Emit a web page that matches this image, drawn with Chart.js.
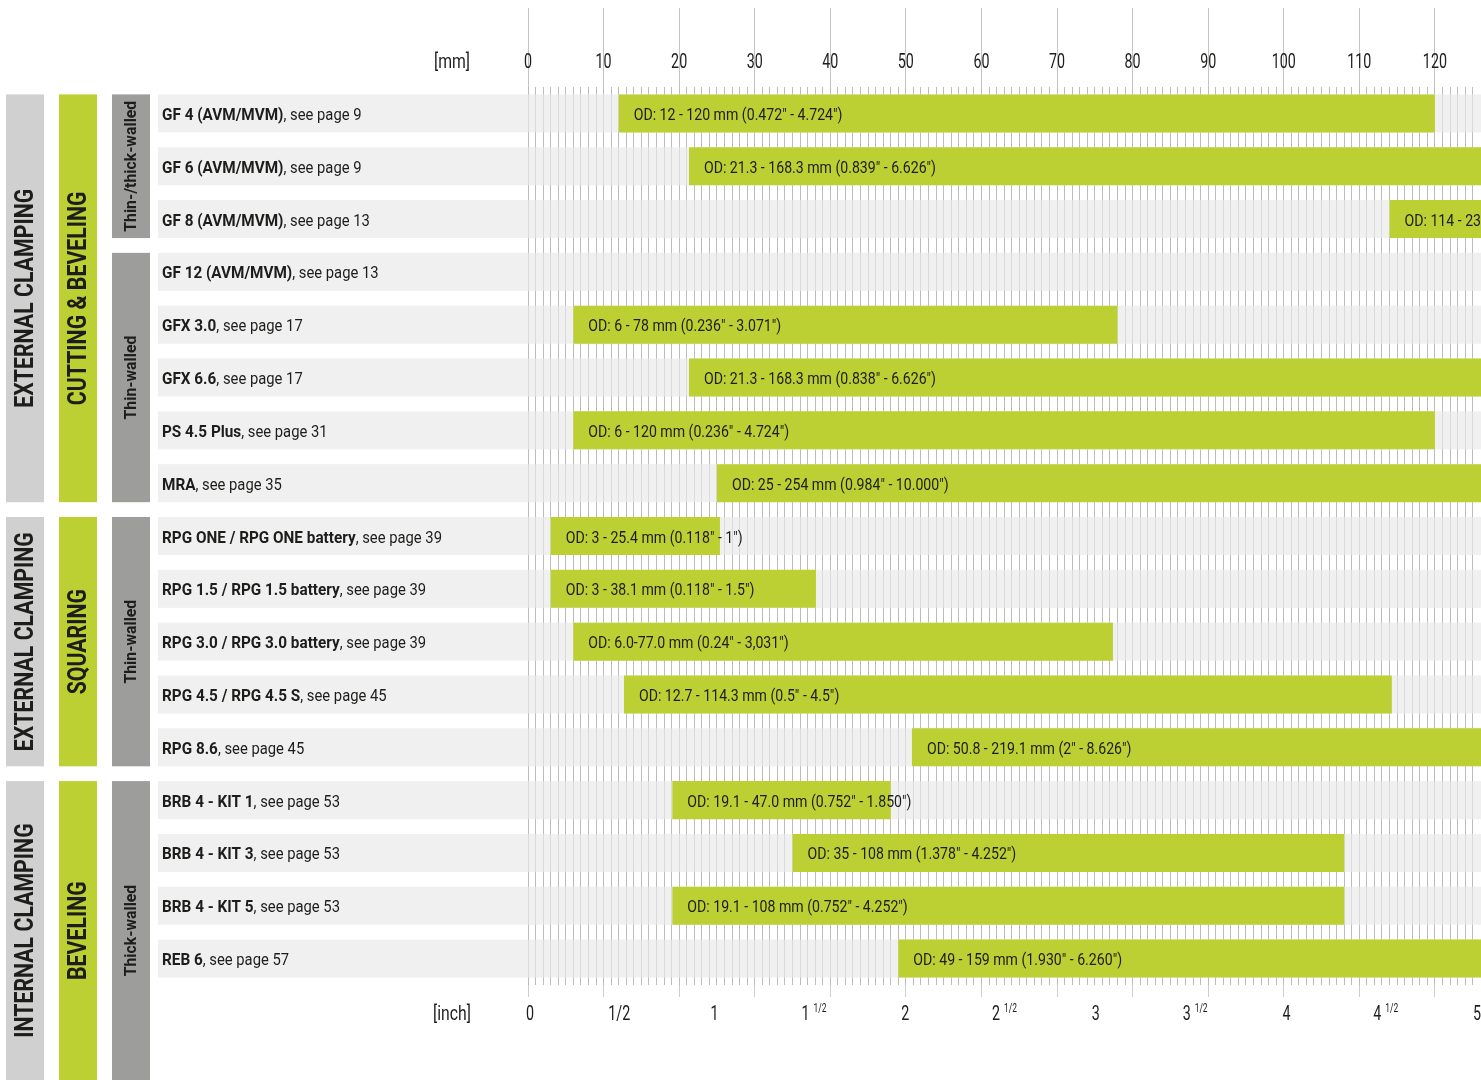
<!DOCTYPE html>
<html>
<head>
<meta charset="utf-8">
<script src="https://cdn.jsdelivr.net/npm/chart.js@4.4.1/dist/chart.umd.min.js"></script>
<style>
  html, body { margin: 0; padding: 0; background: #fff; overflow: hidden; }
  canvas { display: block; }
</style>
</head>
<body>
<canvas id="odChart" width="1481" height="1080"></canvas>
<script>
// product rows (bold part + page reference)
const products = [
    'GF 4 (AVM/MVM)', 'GF 6 (AVM/MVM)', 'GF 8 (AVM/MVM)', 'GF 12 (AVM/MVM)',
    'GFX 3.0', 'GFX 6.6', 'PS 4.5 Plus', 'MRA',
    'RPG ONE / RPG ONE battery', 'RPG 1.5 / RPG 1.5 battery', 'RPG 3.0 / RPG 3.0 battery',
    'RPG 4.5 / RPG 4.5 S', 'RPG 8.6',
    'BRB 4 - KIT 1', 'BRB 4 - KIT 3', 'BRB 4 - KIT 5', 'REB 6'
];
const pages = [9, 9, 13, 13, 17, 17, 31, 35, 39, 39, 39, 45, 45, 53, 53, 53, 57];

// outside diameter range in mm
const odMin = [12, 21.3, 114, null, 6, 21.3, 6, 25, 3, 3, 6, 12.7, 50.8, 19.1, 35, 19.1, 49];
const odMax = [120, 168.3, 230, null, 78, 168.3, 120, 254, 25.4, 38.1, 77.4, 114.3, 219.1, 48, 108, 108, 159];
const odLabels = [
    'OD: 12 - 120 mm (0.472" - 4.724")',
    'OD: 21.3 - 168.3 mm (0.839" - 6.626")',
    'OD: 114 - 230 mm (4.488" - 9.055")',
    '',
    'OD: 6 - 78 mm (0.236" - 3.071")',
    'OD: 21.3 - 168.3 mm (0.838" - 6.626")',
    'OD: 6 - 120 mm (0.236" - 4.724")',
    'OD: 25 - 254 mm (0.984" - 10.000")',
    'OD: 3 - 25.4 mm (0.118" - 1")',
    'OD: 3 - 38.1 mm (0.118" - 1.5")',
    'OD: 6.0-77.0 mm (0.24" - 3,031")',
    'OD: 12.7 - 114.3 mm (0.5" - 4.5")',
    'OD: 50.8 - 219.1 mm (2" - 8.626")',
    'OD: 19.1 - 47.0 mm (0.752" - 1.850")',
    'OD: 35 - 108 mm (1.378" - 4.252")',
    'OD: 19.1 - 108 mm (0.752" - 4.252")',
    'OD: 49 - 159 mm (1.930" - 6.260")'
];

const mmTicks = [0, 10, 20, 30, 40, 50, 60, 70, 80, 90, 100, 110, 120];
const inchTicks = [0, 0.5, 1, 1.5, 2, 2.5, 3, 3.5, 4, 4.5, 5];
const inchLabels = ['0', '1/2', '1', '1 1/2', '2', '2 1/2', '3', '3 1/2', '4', '4 1/2', '5'];

// row groups on the left
const clampLabels = ['EXTERNAL CLAMPING', 'EXTERNAL CLAMPING', 'INTERNAL CLAMPING'];
const processLabels = ['CUTTING & BEVELING', 'SQUARING', 'BEVELING'];
const groupRows = [[0, 7], [8, 12], [13, 16]];
const wallLabels = ['Thin-/thick-walled', 'Thin-walled', 'Thin-walled', 'Thick-walled'];
const wallRows = [[0, 2], [3, 7], [8, 12], [13, 16]];

const GREEN = '#bdd033';
const INK = '#1d1d1b';
const FONT = 'Roboto';

function squeezed(ctx, text, x, y, sx, align) {
    ctx.save();
    ctx.translate(x, y);
    ctx.scale(sx, 1);
    ctx.textAlign = align || 'left';
    ctx.fillText(text, 0, 0);
    ctx.restore();
}

function vertical(ctx, text, cx, cy, sx) {
    ctx.save();
    ctx.translate(cx, cy);
    ctx.rotate(-Math.PI / 2);
    ctx.scale(sx, 1);
    ctx.textAlign = 'center';
    ctx.textBaseline = 'middle';
    ctx.fillText(text, 0, 0);
    ctx.restore();
}

function rowBounds(chart, from, to) {
    const y = chart.scales.y;
    const half = chart.getDatasetMeta(0).data[0].height / 2;
    return [y.getPixelForValue(from) - half, y.getPixelForValue(to) + half];
}

const chartDecor = {
    id: 'chartDecor',
    beforeDatasetsDraw(chart) {
        const c = chart.ctx;
        const y = chart.scales.y;
        const h = chart.getDatasetMeta(0).data[0].height;
        // row stripes, semi transparent so the grid shows through lighter
        c.save();
        c.fillStyle = 'rgba(233,233,233,0.67)';
        products.forEach((p, i) => {
            const py = y.getPixelForValue(i);
            c.fillRect(158, py - h / 2, chart.chartArea.right - 158, h);
        });
        c.restore();
    },
    afterDatasetsDraw(chart) {
        const c = chart.ctx;
        const y = chart.scales.y;
        const x = chart.scales.x;
        const inch = chart.scales.inch;
        c.save();
        c.fillStyle = INK;
        c.textBaseline = 'alphabetic';

        // product names
        products.forEach((p, i) => {
            const py = y.getPixelForValue(i) + 6.5;
            c.font = 'bold 17px ' + FONT;
            squeezed(c, p, 162, py, 0.9);
            const w = c.measureText(p).width * 0.9;
            c.font = '17px ' + FONT;
            squeezed(c, ', see page ' + pages[i], 162 + w, py, 0.87);
        });

        // bar texts
        c.font = '17px ' + FONT;
        chart.getDatasetMeta(0).data.forEach((bar, i) => {
            if (!odLabels[i] || odMin[i] === null) return;
            const left = Math.min(bar.x, bar.base);
            squeezed(c, odLabels[i], left + 15, bar.y + 6.5, 0.83);
        });

        // mm scale numbers
        c.font = '21px ' + FONT;
        mmTicks.forEach(v => squeezed(c, String(v), x.getPixelForValue(v), 68, 0.68, 'center'));
        squeezed(c, '[mm]', 452, 68, 0.75, 'center');

        // inch scale numbers
        inchTicks.forEach((v, i) => {
            const px = inch.getPixelForValue(v);
            const parts = inchLabels[i].split(' ');
            if (parts.length === 1) {
                c.font = '21px ' + FONT;
                squeezed(c, parts[0], v === 0 ? px + 2 : px - 4, 1020, 0.68, 'center');
            } else {
                c.font = '21px ' + FONT;
                const w1 = c.measureText(parts[0]).width * 0.68;
                c.font = '12px ' + FONT;
                const w2 = c.measureText(parts[1]).width * 0.7;
                const start = px - (w1 + 4 + w2) / 2;
                c.font = '21px ' + FONT;
                squeezed(c, parts[0], start, 1020, 0.68);
                c.font = '12px ' + FONT;
                squeezed(c, parts[1], start + w1 + 4, 1012, 0.7);
            }
        });
        c.font = '21px ' + FONT;
        squeezed(c, '[inch]', 452, 1020, 0.75, 'center');

        // group columns
        groupRows.forEach((g, i) => {
            let [top, bottom] = rowBounds(chart, g[0], g[1]);
            if (i === groupRows.length - 1) bottom = chart.height;
            c.fillStyle = '#d0d0d0';
            c.fillRect(6, top, 38, bottom - top);
            c.fillStyle = GREEN;
            c.fillRect(59, top, 38, bottom - top);
            c.fillStyle = INK;
            c.font = 'bold 26px ' + FONT;
            const cy = (top + bottom) / 2;
            vertical(c, clampLabels[i], 26, cy, 0.82);
            vertical(c, processLabels[i], 79, cy, 0.82);
        });
        wallRows.forEach((g, i) => {
            let [top, bottom] = rowBounds(chart, g[0], g[1]);
            if (i === wallRows.length - 1) bottom = chart.height;
            c.fillStyle = '#9d9d9c';
            c.fillRect(112, top, 38, bottom - top);
            c.fillStyle = INK;
            c.font = 'bold 17px ' + FONT;
            vertical(c, wallLabels[i], 132, (top + bottom) / 2, 0.93);
        });
        c.restore();
    }
};

const isMajor = ctx => ctx.tick && Math.abs(ctx.tick.value % 10) < 1e-6;

new Chart(document.getElementById('odChart').getContext('2d'), {
    type: 'bar',
    data: {
        labels: products,
        datasets: [{
            data: odMin.map((v, i) => v === null ? null : [v, odMax[i]]),
            backgroundColor: GREEN,
            borderWidth: 0,
            barPercentage: 0.72,
            categoryPercentage: 1
        }]
    },
    options: {
        indexAxis: 'y',
        responsive: false,
        animation: false,
        layout: { padding: 0 },
        plugins: {
            legend: { display: false },
            tooltip: { enabled: false }
        },
        scales: {
            x: {
                position: 'top',
                min: 0,
                max: 126.1,
                ticks: { stepSize: 1, autoSkip: false, display: false },
                grid: {
                    color: '#bcbcbc',
                    tickLength: 79,
                    tickColor: ctx => isMajor(ctx) ? '#c4c4c4' : 'rgba(0,0,0,0)'
                },
                border: { display: false },
                afterFit: s => { s.height = 87; }
            },
            xb: {
                position: 'bottom',
                min: 0,
                max: 126.1,
                ticks: { stepSize: 1, autoSkip: false, display: false },
                grid: {
                    drawOnChartArea: false,
                    tickLength: 12,
                    tickColor: ctx => isMajor(ctx) ? '#cdcdcd' : 'rgba(0,0,0,0)'
                },
                border: { display: false },
                afterFit: s => { s.height = 12; }
            },
            inch: {
                position: 'bottom',
                min: 0,
                max: 5,
                ticks: { display: false },
                grid: { display: false },
                border: { display: false },
                afterFit: s => { s.height = 83; }
            },
            y: {
                ticks: { display: false },
                grid: { display: false },
                border: { display: false },
                afterFit: s => { s.width = 528; }
            }
        }
    },
    plugins: [chartDecor]
});
</script>
</body>
</html>
